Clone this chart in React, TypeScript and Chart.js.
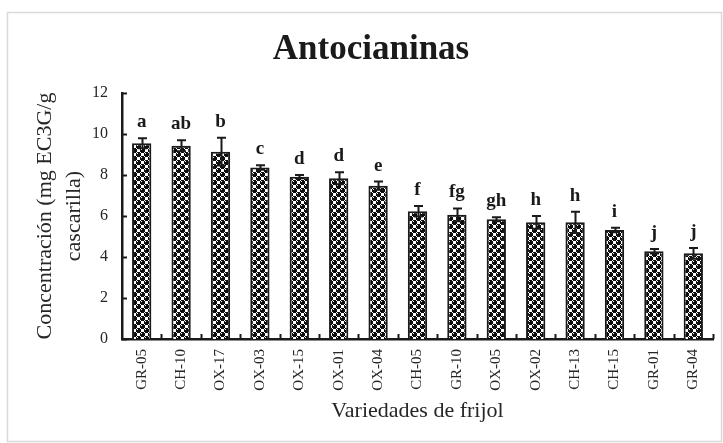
import React, { useEffect, useRef } from "react";
import { Chart, registerables } from "chart.js";

Chart.register(...registerables);

const categories = ["GR-05", "CH-10", "OX-17", "OX-03", "OX-15", "OX-01", "OX-04", "CH-05", "GR-10", "OX-05", "OX-02", "CH-13", "CH-15", "GR-01", "GR-04"];
const means = [9.55, 9.43, 9.14, 8.37, 7.92, 7.84, 7.48, 6.23, 6.06, 5.84, 5.69, 5.69, 5.32, 4.28, 4.18];
const errors = [0.24, 0.27, 0.68, 0.11, 0.08, 0.29, 0.2, 0.26, 0.31, 0.1, 0.31, 0.52, 0.11, 0.11, 0.26];
const letters = ["a", "ab", "b", "c", "d", "d", "e", "f", "fg", "gh", "h", "h", "i", "j", "j"];
const yMin = 0;
const yMax = 12;
const yStep = 2;
const chartTitle = "Antocianinas";
const xTitle = "Variedades de frijol";
const yTitle = ["Concentración (mg EC3G/g", "cascarilla)"];

const SERIF = "'Liberation Serif', 'Times New Roman', serif";
const INK = "#1a1a1a";

function makePattern(ctx: CanvasRenderingContext2D): CanvasPattern | string {
  const t = document.createElement("canvas");
  t.width = 8;
  t.height = 8;
  const c = t.getContext("2d");
  if (!c) return "#444";
  c.fillStyle = "#ffffff";
  c.fillRect(0, 0, 8, 8);
  c.fillStyle = "#0d0d0d";
  const blob = [
    ".XXX.",
    "X.XXX",
    "XXXXX",
    "XXXXX",
    ".XXX.",
  ];
  const put = (ox: number, oy: number) => {
    for (let r = 0; r < 5; r++) {
      for (let q = 0; q < 5; q++) {
        if (blob[r][q] === "X") c.fillRect((ox + q) % 8, (oy + r) % 8, 1, 1);
      }
    }
  };
  put(0, 0);
  put(4, 4);
  const p = ctx.createPattern(t, "repeat");
  return p || "#444";
}

export default function App() {
  const ref = useRef<HTMLCanvasElement | null>(null);

  useEffect(() => {
    const canvas = ref.current;
    if (!canvas) return;
    const ctx = canvas.getContext("2d");
    if (!ctx) return;
    const pattern = makePattern(ctx);

    const framePlugin = {
      id: "frame",
      beforeDraw(chart: any) {
        const c = chart.ctx;
        c.save();
        c.fillStyle = "#ffffff";
        c.fillRect(0, 0, chart.width, chart.height);
        c.strokeStyle = "#d9d9d9";
        c.lineWidth = 1.5;
        c.strokeRect(7.5, 12.5, 714, 429);
        c.restore();
      },
    };

    const decorPlugin = {
      id: "decor",
      afterDatasetsDraw(chart: any) {
        const c = chart.ctx;
        const xs = chart.scales.x;
        const ys = chart.scales.y;
        const area = chart.chartArea;
        const meta = chart.getDatasetMeta(0);
        c.save();
        // inner tick marks
        c.strokeStyle = INK;
        c.lineWidth = 2;
        for (let v = yMin; v <= yMax; v += yStep) {
          const y = Math.round(ys.getPixelForValue(v)) + 0.5;
          c.beginPath();
          c.moveTo(area.left, y);
          c.lineTo(area.left + 5, y);
          c.stroke();
        }
        for (let i = 1; i <= categories.length; i++) {
          const x = Math.round(xs.getPixelForValue(i - 0.5)) + 0.5;
          c.beginPath();
          c.moveTo(x, area.bottom);
          c.lineTo(x, area.bottom - 5);
          c.stroke();
        }
        // error bars
        c.lineWidth = 2;
        c.strokeStyle = INK;
        meta.data.forEach((bar: any, i: number) => {
          const x = Math.round(bar.x) + 0.5;
          const yt = ys.getPixelForValue(means[i] + errors[i]);
          const yb = ys.getPixelForValue(means[i] - errors[i]);
          c.beginPath();
          c.moveTo(x, yt);
          c.lineTo(x, yb);
          c.moveTo(x - 4.5, yt);
          c.lineTo(x + 4.5, yt);
          c.moveTo(x - 4.5, yb);
          c.lineTo(x + 4.5, yb);
          c.stroke();
        });
        // significance letters
        c.fillStyle = INK;
        c.font = `bold 19px ${SERIF}`;
        c.textAlign = "center";
        c.textBaseline = "alphabetic";
        meta.data.forEach((bar: any, i: number) => {
          const yt = ys.getPixelForValue(means[i] + errors[i]);
          c.fillText(letters[i], bar.x, yt - 11);
        });
        c.restore();
      },
    };

    const chart = new Chart(canvas, {
      type: "bar",
      data: {
        labels: categories,
        datasets: [
          {
            data: means,
            backgroundColor: pattern as any,
            borderColor: INK,
            borderWidth: 2,
            barPercentage: 0.49,
            categoryPercentage: 1,
          },
        ],
      },
      options: {
        responsive: false,
        animation: false,
        devicePixelRatio: 1,
        layout: { padding: { top: 12, left: 29, right: 10, bottom: 0 } },
        plugins: {
          legend: { display: false },
          tooltip: { enabled: false },
          title: {
            display: true,
            text: chartTitle,
            color: INK,
            font: { family: SERIF, size: 35, weight: "bold", lineHeight: 1.2 },
            padding: { top: 17, bottom: 22 },
          },
        },
        scales: {
          x: {
            type: "category",
            offset: true,
            grid: { display: false, drawTicks: false },
            border: { display: true, color: INK, width: 2.5 },
            ticks: {
              autoSkip: false,
              minRotation: 90,
              maxRotation: 90,
              padding: 10,
              color: "#262626",
              font: { family: SERIF, size: 15 },
            },
            title: {
              display: true,
              text: xTitle,
              color: "#262626",
              font: { family: SERIF, size: 22, lineHeight: 1.2 },
              padding: { top: 0, bottom: 19 },
            },
            afterFit(scale: any) {
              scale.height = 104;
            },
          },
          y: {
            min: yMin,
            max: yMax,
            grid: { display: false, drawTicks: false },
            border: { display: true, color: INK, width: 2.5 },
            ticks: {
              stepSize: yStep,
              padding: 14,
              color: "#262626",
              font: { family: SERIF, size: 16 },
            },
            title: {
              display: true,
              text: yTitle,
              color: "#262626",
              font: { family: SERIF, size: 22, lineHeight: 1.32 },
              padding: { top: 2, bottom: 0 },
            },
            afterFit(scale: any) {
              scale.width = 93;
            },
          },
        },
      },
      plugins: [framePlugin, decorPlugin],
    });

    return () => chart.destroy();
  }, []);

  return (
    <div style={{ position: "absolute", left: 0, top: 0, width: 723, height: 443 }}>
      <canvas ref={ref} width={723} height={443} style={{ display: "block", width: 723, height: 443 }} />
    </div>
  );
}
